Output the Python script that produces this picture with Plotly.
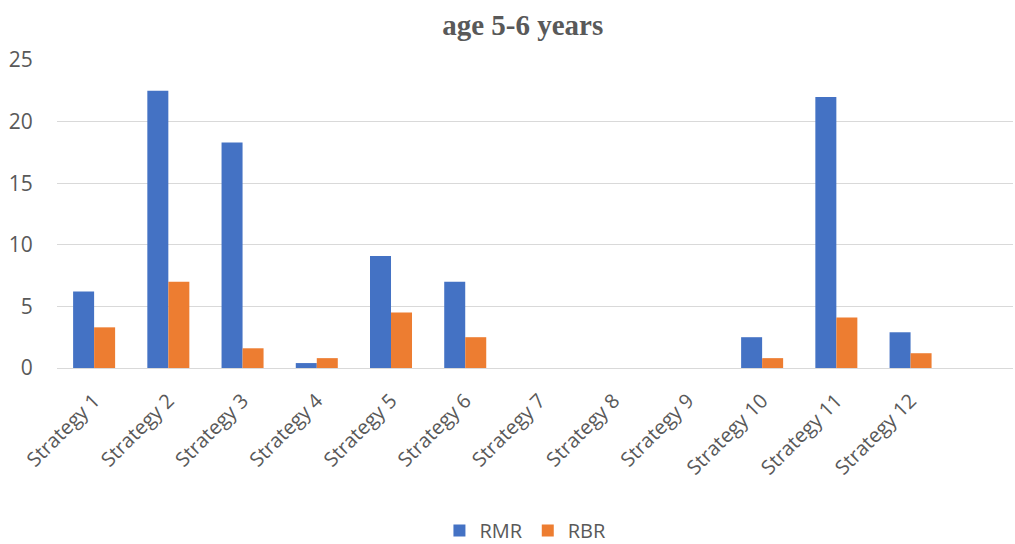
import plotly.graph_objects as go

categories = [f"Strategy {i}" for i in range(1, 13)]
rmr = [6.2, 22.5, 18.3, 0.4, 9.1, 7.0, 0, 0, 0, 2.5, 22.0, 2.9]
rbr = [3.3, 7.0, 1.6, 0.8, 4.5, 2.5, 0, 0, 0, 0.8, 4.1, 1.2]
y_ticks = [0, 5, 10, 15, 20, 25]

fig = go.Figure()
fig.add_trace(go.Bar(x=categories, y=rmr, name="RMR", marker=dict(color="#4472C4", line=dict(width=0))))
fig.add_trace(go.Bar(x=categories, y=rbr, name="RBR", marker=dict(color="#ED7D31", line=dict(width=0))))

font_family = "Open Sans, Liberation Sans, sans-serif"
fig.update_layout(
    width=1015, height=544,
    margin=dict(l=57, r=2, t=60, b=176, autoexpand=False),
    paper_bgcolor="white", plot_bgcolor="white",
    barmode="group", bargap=0.434, bargroupgap=0,
    title=dict(text="<b>age 5-6 years</b>", x=0.515, xanchor="center", y=1 - 25 / 544, yanchor="middle",
               font=dict(family="Liberation Serif, Times New Roman, serif", size=29, color="#595959")),
    legend=dict(orientation="h", x=0.49, xanchor="center", y=(368 - 550) / 308, yanchor="bottom",
                font=dict(family=font_family, size=20, color="#595959"), itemwidth=30,
                bgcolor="rgba(0,0,0,0)", tracegroupgap=0),
    font=dict(family=font_family, color="#595959"),
)
fig.update_xaxes(range=[-0.5, 12.38], tickangle=-45, tickfont=dict(size=20, color="#595959"),
                 showgrid=False, showline=False, ticks="outside", ticklen=12,
                 tickcolor="rgba(0,0,0,0)", automargin=False)
fig.update_yaxes(range=[0, 25], tickvals=y_ticks, showgrid=True, gridcolor="#D9D9D9", gridwidth=1.3,
                 zeroline=True, zerolinecolor="#D9D9D9", zerolinewidth=1.3,
                 tickfont=dict(size=21, color="#595959"), ticks="outside", ticklen=19,
                 tickcolor="rgba(0,0,0,0)", automargin=False)

fig.write_html("out.html", config={"displayModeBar": False},
               post_script="document.body.style.margin='0';")
